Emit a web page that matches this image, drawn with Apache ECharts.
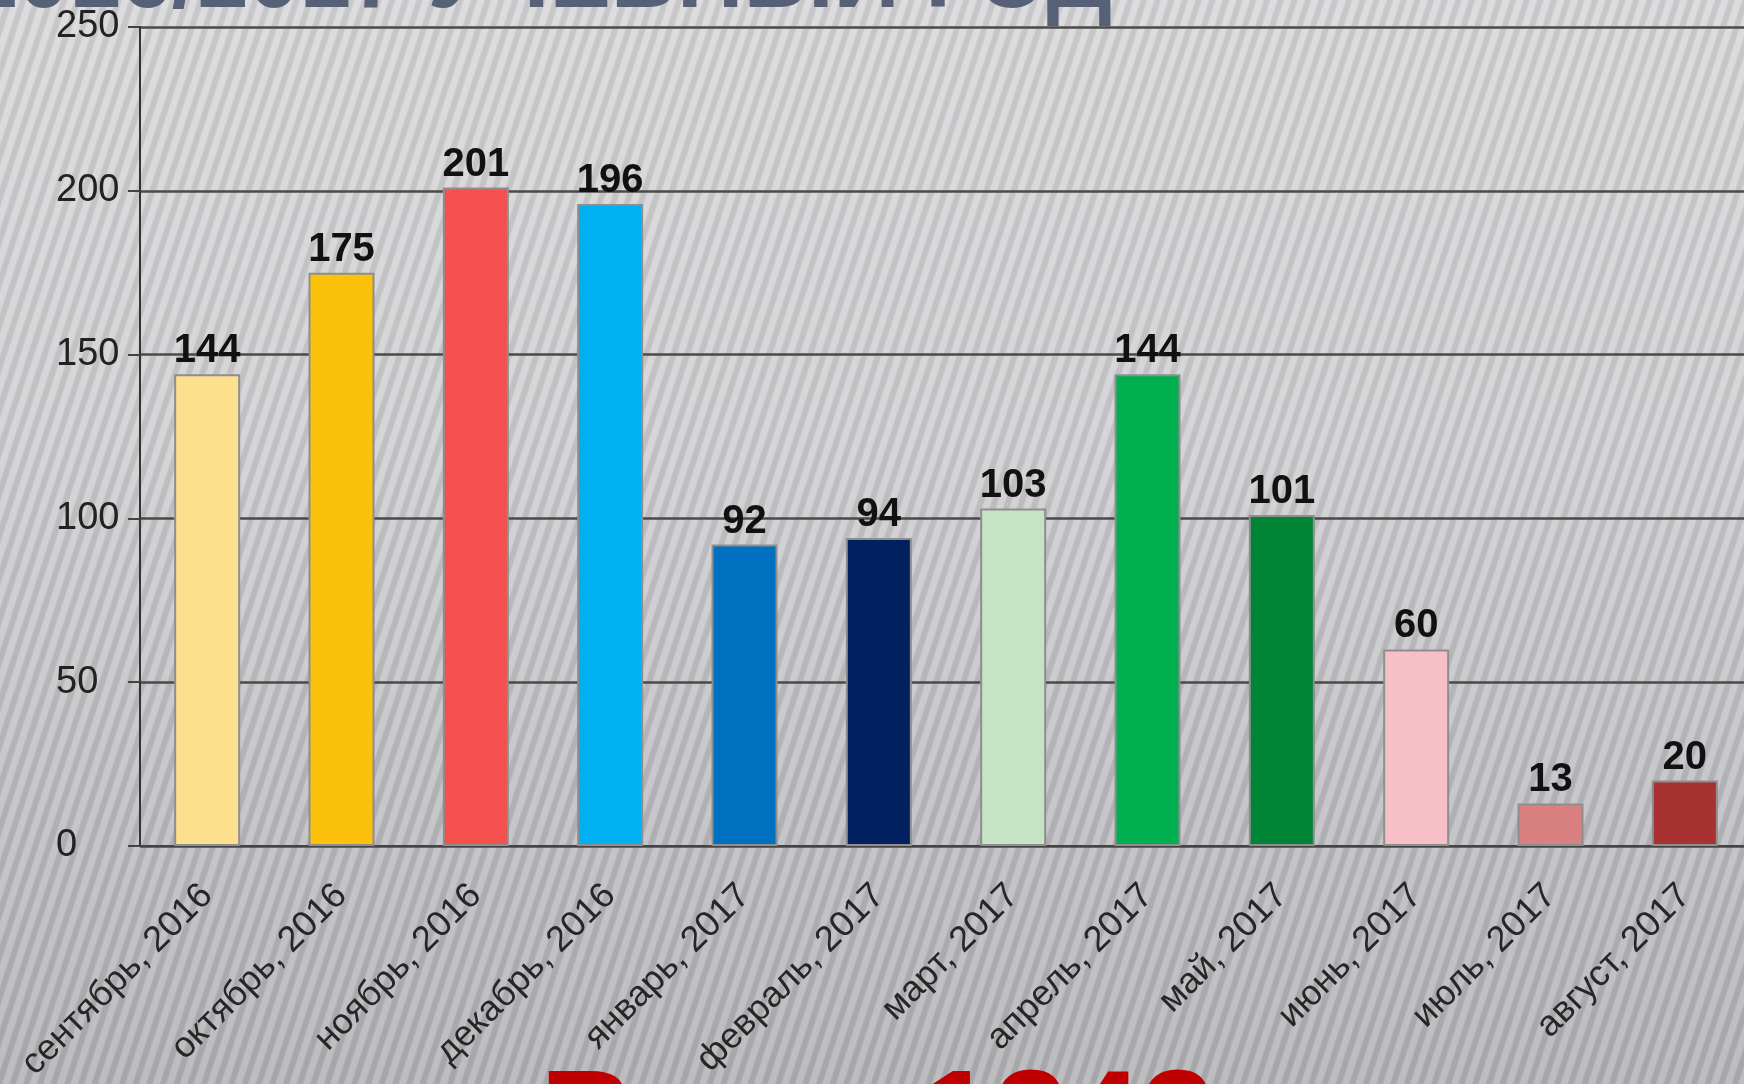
<!DOCTYPE html>
<html>
<head>
<meta charset="utf-8">
<script src="https://cdn.jsdelivr.net/npm/echarts@6/dist/echarts.min.js"></script>
<style>
html,body{margin:0;padding:0;width:1744px;height:1084px;overflow:hidden;}
body{
  background:
    repeating-linear-gradient(108deg, rgba(255,255,255,0.12) 0px, rgba(255,255,255,0.12) 5px, rgba(0,0,0,0.08) 7px, rgba(0,0,0,0.08) 11px, rgba(255,255,255,0.12) 13px),
    linear-gradient(180deg, #d8d8da 0%, #d0d0d3 40%, #bfbfc3 75%, #b4b4b8 100%);
}
#chart{width:1764px;height:1084px;}
</style>
</head>
<body>
<div id="chart"></div>
<script>
const categories = ['сентябрь, 2016','октябрь, 2016','ноябрь, 2016','декабрь, 2016','январь, 2017','февраль, 2017','март, 2017','апрель, 2017','май, 2017','июнь, 2017','июль, 2017','август, 2017'];
const values = [144, 175, 201, 196, 92, 94, 103, 144, 101, 60, 13, 20];
const barColors = ['#FDE08E','#FCC10A','#F5504E','#00B0F0','#0070C0','#002060','#C4E4C4','#00B050','#008536','#F7C0C6','#D98080','#A83232'];
const yTicks = [0, 50, 100, 150, 200, 250];
const titleText = '2016/2017 УЧЕБНЫЙ ГОД';
const totalLabel = 'Всего:';
const totalValue = '1343';

const chart = echarts.init(document.getElementById('chart'));
chart.setOption({
  backgroundColor: 'transparent',
  animation: false,
  grid: {left: 140, right: 12, top: 27, bottom: 238, containLabel: false},
  xAxis: {
    type: 'category',
    data: categories,
    axisLine: {show: true, lineStyle: {color: '#444', width: 2}},
    axisTick: {show: false},
    axisLabel: {
      rotate: 45, interval: 0, margin: 44,
      fontFamily: 'Liberation Sans, Arial, sans-serif', fontSize: 36, color: '#262626'
    }
  },
  yAxis: {
    type: 'value',
    min: yTicks[0], max: yTicks[yTicks.length-1], interval: 50,
    axisLine: {show: true, lineStyle: {color: '#333', width: 2}},
    axisTick: {show: true, length: 12, lineStyle: {color: '#444', width: 2}},
    splitLine: {show: true, lineStyle: {color: '#4a4a4a', width: 2.5}},
    axisLabel: {
      align: 'left', margin: 84,
      fontFamily: 'Liberation Sans, Arial, sans-serif', fontSize: 38, color: '#222'
    }
  },
  series: [{
    type: 'bar',
    data: values.map((v, i) => ({value: v, itemStyle: {color: barColors[i]}})),
    barWidth: 66,
    itemStyle: {borderColor: '#8e8e8e', borderWidth: 2},
    label: {
      show: true, position: 'top', distance: 3,
      fontFamily: 'Liberation Sans, Arial, sans-serif', fontSize: 40, fontWeight: 'bold', color: '#111'
    }
  }],
  graphic: [
    {
      type: 'text', right: 652, top: -64, z: -1,
      style: {
        text: titleText,
        fontFamily: 'Liberation Sans, Arial, sans-serif', fontSize: 92, fontWeight: 'bold',
        fill: '#566077'
      }
    },
    {
      type: 'text', left: 540, top: 1060, z: 10,
      style: {
        text: totalLabel,
        fontFamily: 'Liberation Sans, Arial, sans-serif', fontSize: 132, fontWeight: 'bold',
        fill: '#C00000'
      }
    },
    {
      type: 'text', left: 921, top: 1060, z: 10,
      style: {
        text: totalValue,
        fontFamily: 'Liberation Sans, Arial, sans-serif', fontSize: 132, fontWeight: 'bold',
        fill: '#C00000'
      }
    }
  ]
});
</script>
</body>
</html>
